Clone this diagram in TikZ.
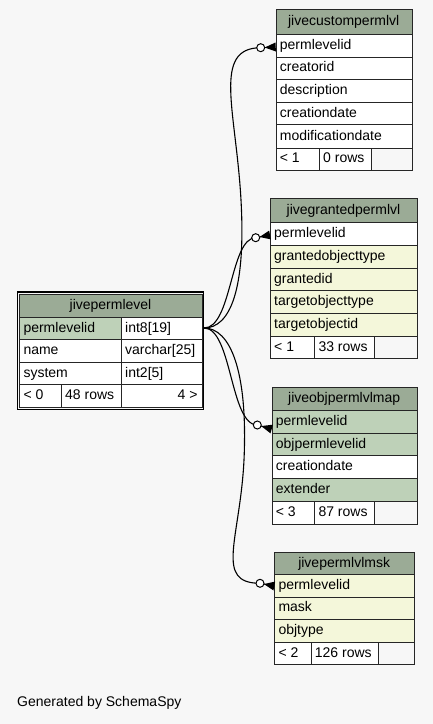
\documentclass[tikz,border=0pt]{standalone}
\usepackage{fontspec}
\setmainfont{Liberation Sans}
\usetikzlibrary{calc}
\definecolor{bgc}{HTML}{F7F7F7}
\definecolor{hdr}{HTML}{9BAB96}
\definecolor{pkc}{HTML}{BED1B8}
\definecolor{idx}{HTML}{F4F7DA}
\tikzset{
  cellbox/.style={draw=black!85, line width=0.9pt, inner sep=0pt, anchor=north west},
  txt/.style={inner sep=0pt, font=\fontsize{14}{16}\selectfont, text=black},
  rel/.style={draw=black, line width=1.1pt},
}
\newcommand\cellE[6]{%
  \pgfmathsetmacro\cw{#4-#2}\pgfmathsetmacro\ch{#5-#3}%
  \node[cellbox, fill=#6, minimum width=\cw pt, minimum height=\ch pt] (#1) at (#2,#3) {};}
\newcommand\cellL[7]{%
  \cellE{#1}{#2}{#3}{#4}{#5}{#6}%
  \node[txt, anchor=base west] (#1t) at ({#2+4},{(#3+#5)/2+4}) {#7};}
\newcommand\cellC[7]{%
  \cellE{#1}{#2}{#3}{#4}{#5}{#6}%
  \node[txt, anchor=base] (#1t) at ({(#2+#4)/2},{(#3+#5)/2+4}) {#7};}
\newcommand\cellR[7]{%
  \cellE{#1}{#2}{#3}{#4}{#5}{#6}%
  \node[txt, anchor=base east] (#1t) at ({#4-4},{(#3+#5)/2+4}) {#7};}
\newcommand\crowfoot[2]{%
  \fill ($(#2)!4pt!(#1)$) -- ($(#1)!4.5pt!90:(#2)$) -- ($(#1)!4.5pt!-90:(#2)$) -- cycle;
  \draw[line width=0.9pt] ($(#2)!4pt!(#1)$) -- (#1);
  \draw[line width=1pt, fill=white] (#2) circle[radius=4];}
\begin{document}
\begin{tikzpicture}[x=1pt,y=-1pt]
\useasboundingbox (0,0) rectangle (433,724);
\fill[bgc] (0,0) rectangle (433,724);

% jivecustompermlvl
\cellC{cuh}{275.7}{9}{411.7}{34.3}{hdr}{jivecustompermlvl}
\cellL{cu1}{275.7}{34.3}{411.7}{56.7}{white}{permlevelid}
\cellL{cu2}{275.7}{56.7}{411.7}{79}{white}{creatorid}
\cellL{cu3}{275.7}{79}{411.7}{101.7}{white}{description}
\cellL{cu4}{275.7}{101.7}{411.7}{124.3}{white}{creationdate}
\cellL{cu5}{275.7}{124.3}{411.7}{147.7}{white}{modificationdate}
\cellL{cub1}{275.7}{147.7}{319}{170}{white}{< 1}
\cellL{cub2}{319}{147.7}{370.7}{170}{white}{0 rows}
\cellE{cub3}{370.7}{147.7}{411.7}{170}{bgc}

% jivegrantedpermlvl
\cellC{grh}{270}{198.3}{417}{222.3}{hdr}{jivegrantedpermlvl}
\cellL{gr1}{270}{222.3}{417}{245}{white}{permlevelid}
\cellL{gr2}{270}{245}{417}{267.7}{idx}{grantedobjecttype}
\cellL{gr3}{270}{267.7}{417}{290.3}{idx}{grantedid}
\cellL{gr4}{270}{290.3}{417}{313}{idx}{targetobjecttype}
\cellL{gr5}{270}{313}{417}{335.7}{idx}{targetobjectid}
\cellL{grb1}{270}{335.7}{314.3}{358.3}{white}{< 1}
\cellL{grb2}{314.3}{335.7}{374.3}{358.3}{white}{33 rows}
\cellE{grb3}{374.3}{335.7}{417}{358.3}{bgc}

% jivepermlevel
\draw[line width=1.6pt, draw=black] (17.5,292.2) rectangle (203.3,409.6);
\cellC{plh}{19.3}{294.3}{201.7}{316.7}{hdr}{jivepermlevel}
\cellL{pl1}{19.3}{316.7}{121}{339.3}{pkc}{permlevelid}
\cellL{pl1b}{121}{316.7}{201.7}{339.3}{white}{int8[19]}
\cellL{pl2}{19.3}{339.3}{121}{361.7}{white}{name}
\cellL{pl2b}{121}{339.3}{201.7}{361.7}{white}{varchar[25]}
\cellL{pl3}{19.3}{361.7}{121}{384.3}{white}{system}
\cellL{pl3b}{121}{361.7}{201.7}{384.3}{white}{int2[5]}
\cellL{plb1}{19.3}{384.3}{61}{407}{white}{< 0}
\cellL{plb2}{61}{384.3}{121}{407}{white}{48 rows}
\cellR{plb3}{121}{384.3}{201.7}{407}{white}{4 >}

% jiveobjpermlvlmap
\cellC{omh}{271.7}{386.7}{416.7}{410}{hdr}{jiveobjpermlvlmap}
\cellL{om1}{271.7}{410}{416.7}{432.7}{pkc}{permlevelid}
\cellL{om2}{271.7}{432.7}{416.7}{455.3}{pkc}{objpermlevelid}
\cellL{om3}{271.7}{455.3}{416.7}{478}{white}{creationdate}
\cellL{om4}{271.7}{478}{416.7}{500.7}{pkc}{extender}
\cellL{omb1}{271.7}{500.7}{314.3}{523.5}{white}{< 3}
\cellL{omb2}{314.3}{500.7}{374.3}{523.5}{white}{87 rows}
\cellE{omb3}{374.3}{500.7}{416.7}{523.5}{bgc}

% jivepermlvlmsk
\cellC{msh}{274.3}{551.7}{414}{574.3}{hdr}{jivepermlvlmsk}
\cellL{ms1}{274.3}{574.3}{414}{596.7}{idx}{permlevelid}
\cellL{ms2}{274.3}{596.7}{414}{619}{idx}{mask}
\cellL{ms3}{274.3}{619}{414}{641.7}{idx}{objtype}
\cellL{msb1}{274.3}{641.7}{310.7}{664.3}{white}{< 2}
\cellL{msb2}{310.7}{641.7}{378.3}{664.3}{white}{126 rows}
\cellE{msb3}{378.3}{641.7}{414}{664.3}{bgc}

% connectors
\coordinate (S) at (204,328);
\coordinate (E1) at (275.7,47);   \coordinate (C1) at (260.7,47.7);
\coordinate (E2) at (270,235);    \coordinate (C2) at (255.7,237.7);
\coordinate (E3) at (271.7,429);  \coordinate (C3) at (257.3,425);
\coordinate (E4) at (274.3,586);  \coordinate (C4) at (260,583.3);
\draw[rel] (S) .. controls (230,328) and (246,290) .. (241,200) .. controls (236,110) and (212,48) .. (C1);
\draw[rel] (S) .. controls (232,328) and (230,238) .. (C2);
\draw[rel] (S) .. controls (232,328) and (230,425) .. (C3);
\draw[rel] (S) .. controls (230,328) and (248,370) .. (244,460) .. controls (240,540) and (214,583) .. (C4);
\crowfoot{E1}{C1}
\crowfoot{E2}{C2}
\crowfoot{E3}{C3}
\crowfoot{E4}{C4}

\node[txt, anchor=base west] (footer) at (17,706.5) {Generated by SchemaSpy};
\end{tikzpicture}
\end{document}
